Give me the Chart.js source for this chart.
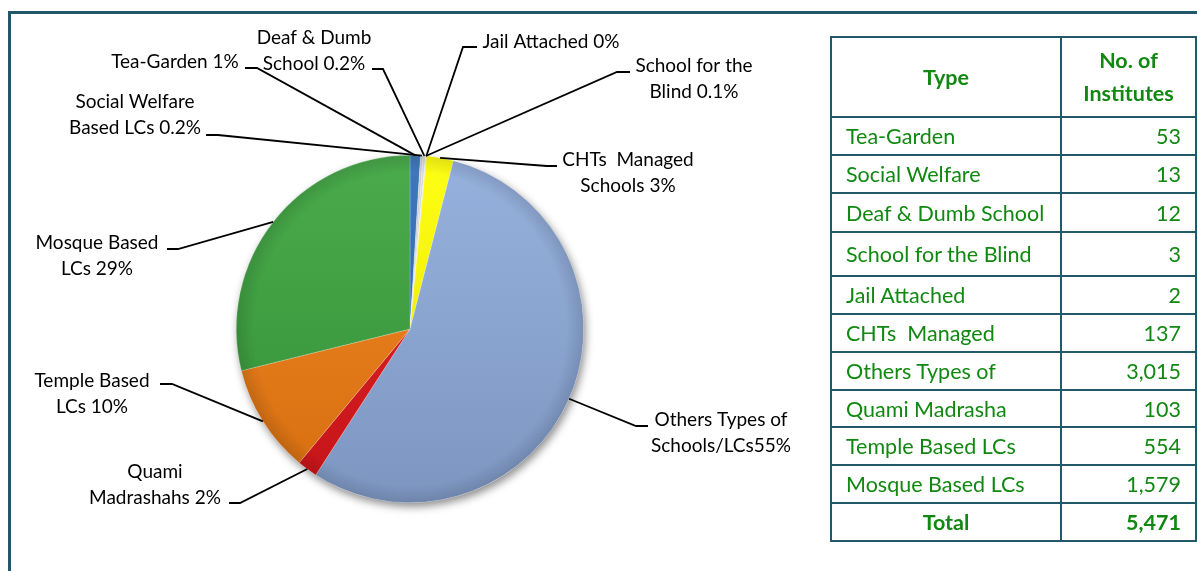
<!DOCTYPE html>
<html>
<head>
<meta charset="utf-8">
<script src="https://cdn.jsdelivr.net/npm/chart.js@4/dist/chart.umd.min.js"></script>
<style>
  html, body { margin: 0; padding: 0; background: #fff; }
  body { width: 1197px; height: 571px; position: relative; overflow: hidden; font-family: Lato, "Open Sans", sans-serif; }
  #pie { position: absolute; left: 0; top: 0; }
  .frame-top { position: absolute; left: 8px; top: 11px; width: 1189px; height: 3px; background: #22596a; }
  .frame-left { position: absolute; left: 8px; top: 11px; width: 3px; height: 560px; background: #22596a; }
  table.inst { position: absolute; left: 830px; top: 36px; width: 367px; border-collapse: collapse; color: #118811; font-size: 21.5px; }
  table.inst td, table.inst th { border: 2px solid #22596a; padding: 0 14px; line-height: 24px; white-space: nowrap; }
  table.inst th { font-weight: bold; line-height: 33px; }
  table.inst td.num { text-align: right; }
  table.inst tr.total td { font-weight: bold; }
</style>
</head>
<body>
<canvas id="pie" width="1197" height="571"></canvas>
<div class="frame-top"></div>
<div class="frame-left"></div>
<table class="inst" id="tbl"></table>

<script>
// data
const tableLabels = ['Tea-Garden', 'Social Welfare', 'Deaf & Dumb School', 'School for the Blind', 'Jail Attached',
  'CHTs  Managed', 'Others Types of', 'Quami Madrasha', 'Temple Based LCs', 'Mosque Based LCs'];
const pieLabels = [['Tea-Garden 1%'], ['Social Welfare', 'Based LCs 0.2%'], ['Deaf & Dumb', 'School 0.2%'],
  ['School for the', 'Blind 0.1%'], ['Jail Attached 0%'], ['CHTs  Managed', 'Schools 3%'],
  ['Others Types of', 'Schools/LCs55%'], ['Quami', 'Madrashahs 2%'], ['Temple Based', 'LCs 10%'], ['Mosque Based', 'LCs 29%']];
const institutes = [53, 13, 12, 3, 2, 137, 3015, 103, 554, 1579];
const totalLabel = 'Total';

// styles
const sliceColors = ['#2e6db4', '#c9ccd2', '#d6d8dc', '#e4e4e4', '#cfcfcf', '#ffff00', '#8eaadb', '#e0161a', '#f27d12', '#3aa43c'];
const rowHeights = [38, 38, 39, 44, 38, 38, 38, 37, 38, 38, 38];

// label placement: text centre x, first line y, hook [from x, to x, y]
const labelSpots = [
  { x: 175, y: 62, hook: [245, 257, 68] },
  { x: 135, y: 102, hook: [206, 218, 135] },
  { x: 314, y: 38, hook: [372, 383, 69] },
  { x: 694, y: 66, hook: [630, 617, 72] },
  { x: 551, y: 42, hook: [477, 463, 47] },
  { x: 628, y: 160, hook: [557, 547, 166] },
  { x: 721, y: 420, hook: [648, 636, 426] },
  { x: 155, y: 472, hook: [229, 240, 503] },
  { x: 92, y: 381, hook: [160, 172, 384] },
  { x: 97, y: 243, hook: [167, 178, 249] }
];

// table
const fmt = n => n.toLocaleString('en-US');
const tbl = document.getElementById('tbl');
let html = '<tr style="height:80px"><th style="width:200px">Type</th><th>No. of<br>Institutes</th></tr>';
tableLabels.forEach((t, i) => {
  html += '<tr style="height:' + rowHeights[i] + 'px"><td>' + t.replace(/&/g, '&amp;').replace(/  /g, ' &nbsp;') + '</td><td class="num">' + fmt(institutes[i]) + '</td></tr>';
});
const total = institutes.reduce((a, b) => a + b, 0);
html += '<tr class="total" style="height:38px"><td style="text-align:center">' + totalLabel + '</td><td class="num">' + fmt(total) + '</td></tr>';
tbl.innerHTML = html;

function shade(hex, f) {
  const n = parseInt(hex.slice(1), 16);
  let r = n >> 16, g = (n >> 8) & 255, b = n & 255;
  const adj = c => Math.max(0, Math.min(255, Math.round(f > 0 ? c + (255 - c) * f : c * (1 + f))));
  return 'rgb(' + adj(r) + ',' + adj(g) + ',' + adj(b) + ')';
}

const shadowPlugin = {
  id: 'pieShadow',
  beforeDatasetsDraw(chart) {
    const arc = chart.getDatasetMeta(0).data[0];
    if (!arc) return;
    const ctx = chart.ctx;
    ctx.save();
    ctx.shadowColor = 'rgba(0,0,0,0.45)';
    ctx.shadowBlur = 9;
    ctx.shadowOffsetX = 2;
    ctx.shadowOffsetY = 4;
    ctx.fillStyle = '#fff';
    ctx.beginPath();
    ctx.arc(arc.x, arc.y, arc.outerRadius, 0, Math.PI * 2);
    ctx.fill();
    ctx.restore();
  },
  afterDatasetsDraw(chart) {
    const arc = chart.getDatasetMeta(0).data[0];
    const ctx = chart.ctx;
    ctx.save();
    const g = ctx.createRadialGradient(arc.x, arc.y, arc.outerRadius * 0.9, arc.x, arc.y, arc.outerRadius);
    g.addColorStop(0, 'rgba(0,0,0,0)');
    g.addColorStop(1, 'rgba(0,0,0,0.12)');
    ctx.fillStyle = g;
    ctx.beginPath();
    ctx.arc(arc.x, arc.y, arc.outerRadius, 0, Math.PI * 2);
    ctx.fill();
    ctx.restore();
  }
};

const calloutPlugin = {
  id: 'callouts',
  afterDraw(chart) {
    const ctx = chart.ctx;
    const arcs = chart.getDatasetMeta(0).data;
    ctx.save();
    ctx.font = '19px Lato, "Open Sans", sans-serif';
    ctx.fillStyle = '#000';
    ctx.textAlign = 'center';
    ctx.textBaseline = 'middle';
    ctx.strokeStyle = '#000';
    ctx.lineWidth = 1.8;
    arcs.forEach((a, i) => {
      const s = labelSpots[i];
      pieLabels[i].forEach((ln, k) => ctx.fillText(ln, s.x, s.y + k * 26));
      const mid = (a.startAngle + a.endAngle) / 2;
      const ex = a.x + Math.cos(mid) * a.outerRadius;
      const ey = a.y + Math.sin(mid) * a.outerRadius;
      ctx.beginPath();
      ctx.moveTo(s.hook[0], s.hook[2]);
      ctx.lineTo(s.hook[1], s.hook[2]);
      ctx.lineTo(ex, ey);
      ctx.stroke();
    });
    ctx.restore();
  }
};

new Chart(document.getElementById('pie'), {
  type: 'pie',
  data: {
    labels: pieLabels.map(l => l.join(' ')),
    datasets: [{
      data: institutes,
      backgroundColor: (c) => {
        const area = c.chart.chartArea;
        if (!area) return sliceColors[c.dataIndex];
        const base = sliceColors[c.dataIndex];
        const g = c.chart.ctx.createLinearGradient(0, area.top, 0, area.bottom);
        g.addColorStop(0, shade(base, 0.08));
        g.addColorStop(1, shade(base, -0.12));
        return g;
      },
      borderWidth: 0.6,
      borderColor: 'rgba(255,255,255,0.35)'
    }]
  },
  options: {
    responsive: false,
    animation: false,
    layout: { padding: { left: 236, right: 613, top: 155, bottom: 68 } },
    plugins: { legend: { display: false }, tooltip: { enabled: false } }
  },
  plugins: [shadowPlugin, calloutPlugin]
});
</script>
</body>
</html>
